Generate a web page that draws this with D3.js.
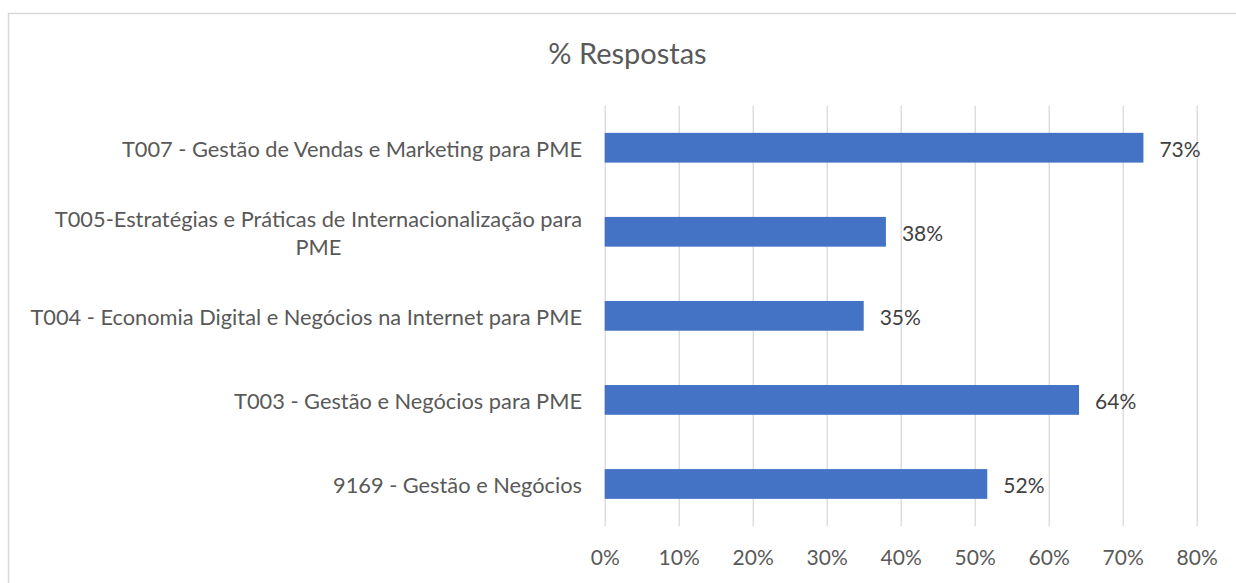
<!DOCTYPE html>
<html>
<head>
<meta charset="utf-8">
<script src="https://cdn.jsdelivr.net/npm/d3@7"></script>
<style>
  body { margin: 0; background: #fff; }
  svg { display: block; font-family: Lato, "Open Sans", sans-serif; }
</style>
</head>
<body>
<div id="chart"></div>
<script>
(function() {
	var categories = [
		"T007 - Gestão de Vendas e Marketing para PME",
		"T005-Estratégias e Práticas de Internacionalização para PME",
		"T004 - Economia Digital e Negócios na Internet para PME",
		"T003 - Gestão e Negócios para PME",
		"9169 - Gestão e Negócios"
	];
	var values = [0.728, 0.38, 0.35, 0.641, 0.517];
	var valueLabels = ["73%", "38%", "35%", "64%", "52%"];
	var tickValues = [0, 0.1, 0.2, 0.3, 0.4, 0.5, 0.6, 0.7, 0.8];
	var title = "% Respostas";

	var width = 1236, height = 583;
	var plot = { left: 604.7, right: 1196.7, top: 105.7, bottom: 526 };

	var svg = d3.select("#chart")
				.append("svg")
				.attr("width", width)
				.attr("height", height);

	// chart frame (runs off the right / bottom of the window like the original)
	svg.append("rect")
		.attr("x", 8.5).attr("y", 13.5)
		.attr("width", 1260).attr("height", 640)
		.attr("fill", "none")
		.attr("stroke", "#d9d9d9")
		.attr("stroke-width", 1.5);

	svg.append("text")
		.attr("x", 627.5).attr("y", 64)
		.attr("text-anchor", "middle")
		.attr("fill", "#595959")
		.style("font-size", "29px")
		.text(title);

	var xScale = d3.scaleLinear().domain([0, 0.8]).range([plot.left, plot.right]);
	var yScale = d3.scaleBand().domain(categories)
		.range([plot.top, plot.bottom])
		.paddingInner(0.646).paddingOuter(0.323);

	// gridlines + tick labels
	var xAxis = d3.axisBottom(xScale)
		.tickValues(tickValues)
		.tickFormat(d3.format(".0%"))
		.tickSizeInner(-(plot.bottom - plot.top))
		.tickSizeOuter(0);

	var gx = svg.append("g")
		.attr("transform", "translate(0," + plot.bottom + ")")
		.call(xAxis);
	gx.select(".domain").remove();
	gx.selectAll(".tick line")
		.attr("stroke", "#d9d9d9")
		.attr("stroke-width", 1.3);
	gx.selectAll(".tick text")
		.attr("y", 32).attr("dy", "0.35em")
		.attr("fill", "#595959")
		.style("font-size", "21px")
		.style("font-family", "Lato, sans-serif");

	// bars
	svg.selectAll("rect.bar")
		.data(categories)
		.enter()
		.append("rect")
		.attr("class", "bar")
		.attr("x", xScale(0))
		.attr("y", function(d) { return yScale(d); })
		.attr("height", yScale.bandwidth())
		.attr("width", function(d, i) { return xScale(values[i]) - xScale(0); })
		.attr("fill", "#4472c4");

	// value labels
	svg.selectAll("text.val")
		.data(categories)
		.enter()
		.append("text")
		.attr("class", "val")
		.attr("x", function(d, i) { return xScale(values[i]) + 16; })
		.attr("y", function(d) { return yScale(d) + yScale.bandwidth() / 2 + 1; })
		.attr("dominant-baseline", "central")
		.attr("fill", "#404040")
		.style("font-size", "21px")
		.text(function(d, i) { return valueLabels[i]; });

	// category labels, wrapped like the original
	var labelRight = 582, maxWidth = 570, lineH = 28;
	svg.selectAll("text.cat")
		.data(categories)
		.enter()
		.append("text")
		.attr("class", "cat")
		.attr("fill", "#595959")
		.style("font-size", "21.8px")
		.each(function(d) {
			var t = d3.select(this);
			var words = d.split(" "), lines = [], line = [];
			var probe = t.append("tspan");
			words.forEach(function(w) {
				line.push(w);
				probe.text(line.join(" "));
				if (probe.node().getComputedTextLength() > maxWidth && line.length > 1) {
					line.pop();
					lines.push(line.join(" "));
					line = [w];
				}
			});
			lines.push(line.join(" "));
			probe.remove();

			var cy = yScale(d) + yScale.bandwidth() / 2;
			var y0 = cy - (lines.length - 1) * lineH / 2;
			var spans = lines.map(function(l, i) {
				return t.append("tspan").attr("y", y0 + i * lineH + 1)
					.attr("dominant-baseline", "central").text(l);
			});
			var wmax = d3.max(spans, function(s) { return s.node().getComputedTextLength(); });
			var cx = labelRight - wmax / 2;
			spans.forEach(function(s) { s.attr("x", cx).attr("text-anchor", "middle"); });
		});
})();
</script>
</body>
</html>
